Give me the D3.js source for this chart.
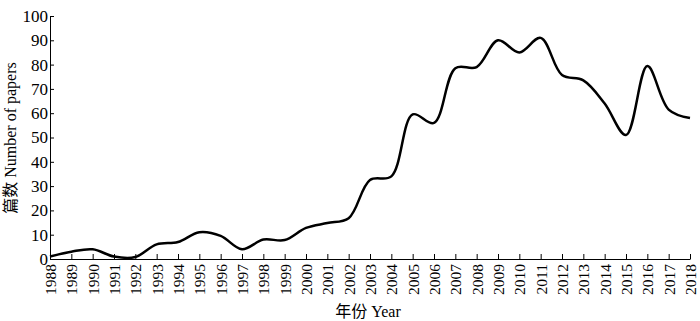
<!DOCTYPE html>
<html><head><meta charset="utf-8">
<script src="https://cdn.jsdelivr.net/npm/d3@7/dist/d3.min.js"></script>
<style>body{margin:0;background:#fff}</style>
</head><body>
<svg id="c" width="700" height="321"></svg>
<script>
const years = [1988,1989,1990,1991,1992,1993,1994,1995,1996,1997,1998,1999,2000,2001,2002,2003,2004,2005,2006,2007,2008,2009,2010,2011,2012,2013,2014,2015,2016,2017,2018];
const papers = [1,3,4,1,0.8,6,7,11,9.5,4,8,7.8,12.8,14.8,16.8,32.5,34,59.5,56,78.5,79,90,85,91,75.7,73.5,64,51,79.4,61.5,58];
const yTicks = [0,10,20,30,40,50,60,70,80,90,100];

const svg = d3.select("#c");
const x = d3.scaleLinear().domain([1988,2018]).range([50,690]);
const y = d3.scaleLinear().domain([0,100]).range([259,16]);
const font = "'Liberation Serif','Times New Roman','Noto Sans CJK SC',serif";

const ga = svg.append("g").attr("transform","translate(0,259)")
  .call(d3.axisBottom(x).tickValues(years).tickFormat(d3.format("d")).tickSizeInner(-5).tickSizeOuter(0));
ga.selectAll("text").attr("transform","rotate(-90)").attr("text-anchor","end")
  .attr("x",-5).attr("y",0).attr("dy","0.35em").attr("font-size",15.5).attr("font-family",font).attr("fill","#000");
const gy = svg.append("g").attr("transform","translate(50,0)")
  .call(d3.axisLeft(y).tickValues(yTicks).tickSizeInner(-4).tickSizeOuter(0).tickPadding(2));
gy.selectAll("text").attr("font-size",17).attr("font-family",font).attr("fill","#000").attr("dy","0.32em");
svg.selectAll(".domain, .tick line").attr("stroke","#000").attr("stroke-width",1);

const line = d3.line().x((d,i)=>x(years[i])).y(d=>y(d)).curve(d3.curveCatmullRom.alpha(0.5));
svg.append("path").datum(papers).attr("d",line).attr("fill","none").attr("stroke","#000").attr("stroke-width",2.5);

svg.append("text").attr("x",368).attr("y",317).attr("text-anchor","middle")
  .attr("font-family",font).attr("font-size",16).text("年份 Year");
svg.append("text").attr("transform","translate(16,138) rotate(-90)").attr("text-anchor","middle")
  .attr("font-family",font).attr("font-size",16).text("篇数 Number of papers");
</script>
</body></html>
